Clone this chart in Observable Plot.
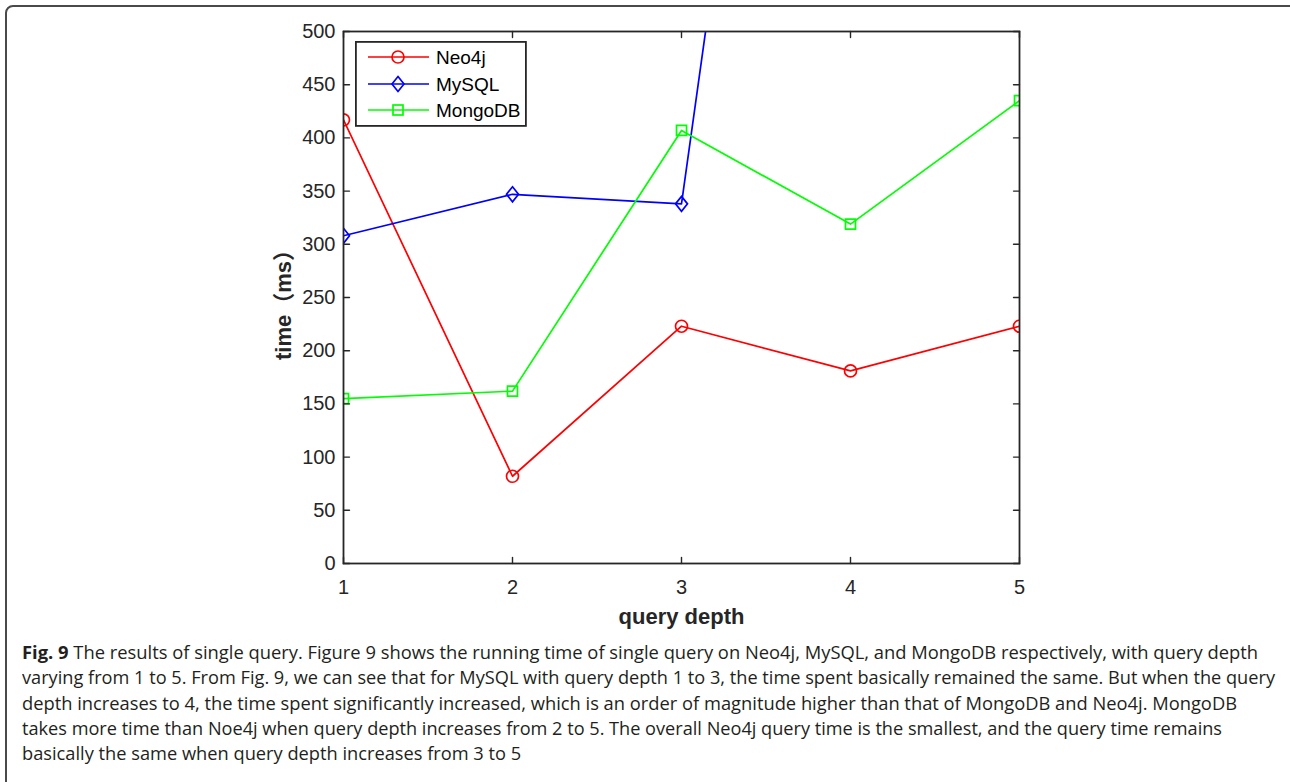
<!DOCTYPE html>
<html><head><meta charset="utf-8">
<script src="https://cdn.jsdelivr.net/npm/d3@7"></script>
<script src="https://cdn.jsdelivr.net/npm/@observablehq/plot@0.6"></script>
<style>
body{margin:0;background:#fff;width:1290px;height:782px;overflow:hidden;position:relative;font-family:"Liberation Sans",Arial,sans-serif}
#frame{position:absolute;left:5px;top:5px;width:1300px;height:900px;border:2px solid #4a4a4a;border-radius:8px;box-sizing:border-box}
#chart{position:absolute;left:0;top:0}
#legend{position:absolute;left:355px;top:41px}
#caption{position:absolute;left:22px;top:640px;font-family:"Open Sans","Noto Sans",sans-serif;font-size:18px;color:#231f20}
.cl{height:25.3px;line-height:25.3px;white-space:nowrap;transform-origin:0 50%}
.cl span{display:inline-block}
</style></head>
<body>
<div id="frame"></div>
<div id="chart"></div>
<div id="legend"></div>
<div id="caption"></div>
<script>
// ---- data ----
const depth = [1, 2, 3, 4, 5];
const neo4j = [417, 82, 223, 181, 223];
const mysql = [308, 347, 338, 1476, 3100];
const mongodb = [155, 162, 407, 319, 435];
const seriesNames = ["Neo4j", "MySQL", "MongoDB"];
const seriesColors = ["#ff0000", "#0000ff", "#00ff00"];
const xTicks = [1, 2, 3, 4, 5];
const yTicks = [0, 50, 100, 150, 200, 250, 300, 350, 400, 450, 500];
const xLabel = "query depth";
const yLabel = "time（ms）";
const captionLines = [
  ["Fig. 9", " The results of single query. Figure 9 shows the running time of single query on Neo4j, MySQL, and MongoDB respectively, with query depth"],
  ["", "varying from 1 to 5. From Fig. 9, we can see that for MySQL with query depth 1 to 3, the time spent basically remained the same. But when the query"],
  ["", "depth increases to 4, the time spent significantly increased, which is an order of magnitude higher than that of MongoDB and Neo4j. MongoDB"],
  ["", "takes more time than Noe4j when query depth increases from 2 to 5. The overall Neo4j query time is the smallest, and the query time remains"],
  ["", "basically the same when query depth increases from 3 to 5"]
];

// ---- symbols (MATLAB-like markers) ----
const circleSym = {draw(ctx) { const r = 6; ctx.moveTo(r, 0); ctx.arc(0, 0, r, 0, 2 * Math.PI); ctx.closePath(); }};
const diamondSym = {draw(ctx) { ctx.moveTo(0, -7.5); ctx.lineTo(6, 0); ctx.lineTo(0, 7.5); ctx.lineTo(-6, 0); ctx.closePath(); }};
const squareSym = {draw(ctx) { ctx.moveTo(-5, -5); ctx.lineTo(5, -5); ctx.lineTo(5, 5); ctx.lineTo(-5, 5); ctx.closePath(); }};
const symbols = [circleSym, diamondSym, squareSym];
const values = [neo4j, mysql, mongodb];

const rows = seriesNames.map((name, s) => depth.map((d, i) => ({depth: d, time: values[s][i], series: name})));
const tickShape = {draw(ctx, l) { ctx.moveTo(0, 0); ctx.lineTo(0, -l); }};
const axisColor = "#262626";

const plot = Plot.plot({
  width: 1290,
  height: 630,
  marginLeft: 343,
  marginRight: 271,
  marginTop: 31,
  marginBottom: 67,
  style: {fontFamily: "'Liberation Sans', Arial, sans-serif", background: "transparent", overflow: "visible"},
  x: {domain: [1, 5]},
  y: {domain: [0, 500]},
  marks: [
    ...rows.map((r, s) => Plot.line(r, {x: "depth", y: "time", stroke: seriesColors[s], strokeWidth: 1.7, clip: true})),
    ...rows.map((r, s) => Plot.dot(r, {x: "depth", y: "time", symbol: symbols[s], r: 6, stroke: seriesColors[s], strokeWidth: 1.7, fill: "none", clip: true})),
    Plot.frame({stroke: axisColor, strokeWidth: 1.8}),
    Plot.vector(yTicks, {y: d => d, frameAnchor: "left", rotate: 90, length: 6, anchor: "start", shape: tickShape, stroke: axisColor, strokeWidth: 1.4}),
    Plot.vector(yTicks, {y: d => d, frameAnchor: "right", rotate: -90, length: 6, anchor: "start", shape: tickShape, stroke: axisColor, strokeWidth: 1.4}),
    Plot.vector(xTicks, {x: d => d, frameAnchor: "bottom", rotate: 0, length: 6, anchor: "start", shape: tickShape, stroke: axisColor, strokeWidth: 1.4}),
    Plot.vector(xTicks, {x: d => d, frameAnchor: "top", rotate: 180, length: 6, anchor: "start", shape: tickShape, stroke: axisColor, strokeWidth: 1.4}),
    Plot.axisY({ticks: yTicks, tickSize: 0, tickPadding: 8, fontSize: 20, color: axisColor, label: null, tickFormat: d => String(d)}),
    Plot.axisX({ticks: xTicks, tickSize: 0, tickPadding: 16, fontSize: 20, color: axisColor, label: null, tickFormat: d => String(d)}),
    Plot.text([xLabel], {text: d => d, frameAnchor: "bottom", dy: 53, fontSize: 22, fontWeight: "bold", fill: axisColor, lineAnchor: "middle", textAnchor: "middle"}),
    Plot.text([yLabel], {text: d => d, frameAnchor: "left", dx: -60, dy: 2, rotate: -90, fontSize: 22, fontWeight: "bold", fill: axisColor, lineAnchor: "middle", textAnchor: "middle", fontFamily: "'Liberation Sans', 'Noto Sans CJK SC', sans-serif"})
  ]
});
document.getElementById("chart").appendChild(plot);

// ---- legend ----
const ns = "http://www.w3.org/2000/svg";
const lg = document.createElementNS(ns, "svg");
lg.setAttribute("width", 172); lg.setAttribute("height", 86);
let html = `<rect x="0.9" y="0.9" width="170" height="84" fill="#fff" stroke="${axisColor}" stroke-width="1.8"/>`;
const rowY = [16, 43, 69];
const markerPaths = [
  `<circle cx="43" cy="0" r="6" fill="none"/>`,
  `<path d="M43,-7.5L49,0L43,7.5L37,0Z" fill="none"/>`,
  `<rect x="38" y="-5" width="10" height="10" fill="none"/>`
];
seriesNames.forEach((name, i) => {
  html += `<g transform="translate(0,${rowY[i]})" stroke="${seriesColors[i]}" stroke-width="1.7">
    <line x1="13" x2="74" y1="0" y2="0"/>${markerPaths[i]}</g>
    <text x="81" y="${rowY[i]}" dy="0.35em" font-size="19" fill="#000" font-family="'Liberation Sans', Arial, sans-serif">${name}</text>`;
});
lg.innerHTML = html;
document.getElementById("legend").appendChild(lg);

// ---- caption ----
const cap = document.getElementById("caption");
const targets = [1258, 1275, 1237, 1222];
const lineEls = captionLines.map(([b, t]) => {
  const div = document.createElement("div");
  div.className = "cl";
  const span = document.createElement("span");
  if (b) { const bb = document.createElement("b"); bb.textContent = b; span.appendChild(bb); }
  span.appendChild(document.createTextNode(t));
  div.appendChild(span);
  cap.appendChild(div);
  return {div, span};
});
const scales = [];
lineEls.forEach(({div, span}, i) => {
  const w = span.getBoundingClientRect().width;
  if (i < targets.length) {
    const s = (targets[i] - 22) / w;
    scales.push(s);
    div.style.transform = `scaleX(${s})`;
  }
});
const avg = scales.reduce((a, b) => a + b, 0) / scales.length;
lineEls[4].div.style.transform = `scaleX(${avg})`;
</script>
</body></html>
